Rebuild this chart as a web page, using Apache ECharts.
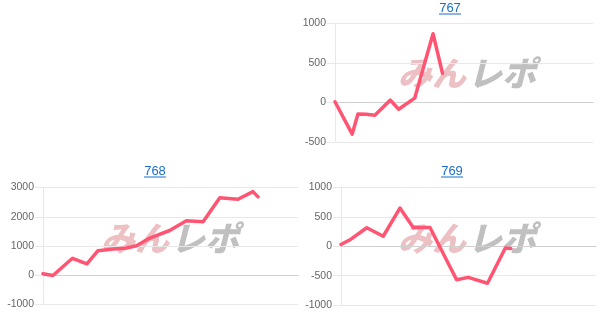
<!DOCTYPE html>
<html>
<head>
<meta charset="utf-8">
<script src="https://cdn.jsdelivr.net/npm/echarts@6/dist/echarts.min.js"></script>
<style>
html,body{margin:0;padding:0;background:#fff;}
#main{width:607px;height:333px;}
</style>
</head>
<body>
<div id="main"></div>
<script>
// ---- data (x: game count, y: coin difference) ----
const titles = ['767', '768', '769'];

const x767 = [0, 600, 800, 1090, 1390, 1930, 2220, 2780, 3420, 3750];
const y767 = [10, -400, -145, -150, -160, 30, -85, 55, 870, 370];

const x768 = [0, 350, 1040, 1550, 1940, 2470, 2940, 3300, 3770, 4470, 5060, 5650, 6240, 6880, 7410, 7590];
const y768 = [50, -10, 580, 390, 840, 900, 930, 1010, 1270, 1530, 1860, 1830, 2650, 2600, 2860, 2680];

const x769 = [0, 350, 910, 1490, 2080, 2550, 3140, 4080, 4490, 5170, 5800, 5990];
const y769 = [30, 120, 315, 170, 650, 320, 320, -570, -530, -630, -30, -40];

const yTicks767 = [-500, 0, 500, 1000];
const yTicks768 = [-1000, 0, 1000, 2000, 3000];
const yTicks769 = [-1000, -500, 0, 500, 1000];

const watermarkA = 'みん';
const watermarkB = 'レポ';

// ---- layout ----
const panels = [
  {grid: {left: 335, right: 14, top: 23.5, bottom: 191}, titleX: 450, titleY: 2, wmX: 466, wmY: 73, ticks: yTicks767, xs: x767, ys: y767},
  {grid: {left: 43, right: 309, top: 187.5, bottom: 28.5}, titleX: 155, titleY: 165, wmX: 169, wmY: 238, ticks: yTicks768, xs: x768, ys: y768},
  {grid: {left: 341, right: 11, top: 187.5, bottom: 28}, titleX: 452, titleY: 165, wmX: 466, wmY: 238, ticks: yTicks769, xs: x769, ys: y769}
];

const XMAX = 9000;
const lineColor = '#ff5573';
const faint = '#e8e8e8';

const chart = echarts.init(document.getElementById('main'), null, {renderer: 'canvas'});

const option = {
  animation: false,
  backgroundColor: '#fff',
  title: [],
  grid: [],
  xAxis: [],
  yAxis: [],
  series: [],
  graphic: []
};

panels.forEach((p, i) => {
  option.title.push({
    text: titles[i],
    left: p.titleX,
    top: p.titleY,
    textAlign: 'center',
    padding: 0,
    textStyle: {color: '#1a6fc9', fontSize: 13, fontWeight: 'normal', fontFamily: 'Liberation Sans, Arial, sans-serif'}
  });
  option.grid.push(Object.assign({containLabel: false}, p.grid));
  const t = p.ticks;
  option.xAxis.push({
    type: 'value', gridIndex: i, min: 0, max: XMAX,
    axisLine: {show: true, onZero: true, lineStyle: {color: '#d0d0d0', width: 1}},
    axisTick: {show: false}, axisLabel: {show: false}, splitLine: {show: false}
  });
  option.yAxis.push({
    type: 'value', gridIndex: i,
    min: t[0], max: t[t.length - 1], interval: t[1] - t[0],
    axisLine: {show: true, lineStyle: {color: faint}},
    axisTick: {show: true, length: 8, lineStyle: {color: faint}},
    axisLabel: {show: true, margin: 9, color: '#666', fontSize: 10.5, fontFamily: 'Liberation Sans, Arial, sans-serif',
      formatter: v => String(v)},
    splitLine: {show: true, lineStyle: {color: faint}}
  });
  option.series.push({
    type: 'line', xAxisIndex: i, yAxisIndex: i,
    data: p.xs.map((x, k) => [x, p.ys[k]]),
    showSymbol: false, symbol: 'none',
    lineStyle: {color: lineColor, width: 3.5, cap: 'round', join: 'round'},
    z: 3
  });
  // title underline
  option.graphic.push({
    type: 'line', z: 10,
    shape: {x1: p.titleX - 11, y1: p.titleY + 12, x2: p.titleX + 11, y2: p.titleY + 12},
    style: {stroke: '#1a6fc9', lineWidth: 1}
  });
  // watermark
  option.graphic.push({
    type: 'text', z: 0,
    x: p.wmX, y: p.wmY,
    style: {text: watermarkA, fill: 'rgba(222,140,148,0.55)', font: 'italic 900 34px "Noto Sans CJK JP"', align: 'right', verticalAlign: 'middle'}
  });
  option.graphic.push({
    type: 'text', z: 0,
    x: p.wmX + 2, y: p.wmY,
    style: {text: watermarkB, fill: 'rgba(150,150,150,0.6)', font: 'italic 900 34px "Noto Sans CJK JP"', align: 'left', verticalAlign: 'middle'}
  });
});

chart.setOption(option);
</script>
</body>
</html>
